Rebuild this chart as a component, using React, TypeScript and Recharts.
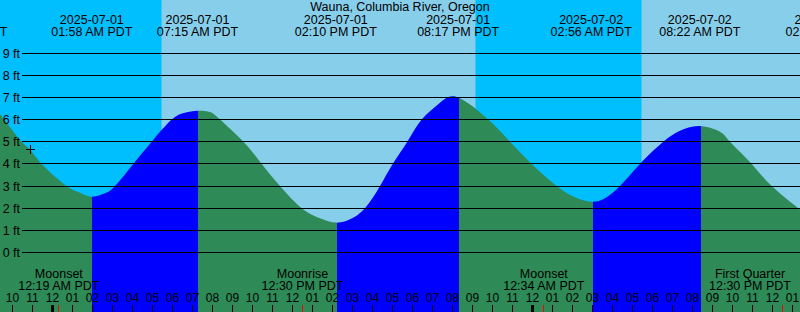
import React from 'react';
import {
  ComposedChart,
  Area,
  XAxis,
  YAxis,
  ReferenceArea,
  ReferenceLine,
  ReferenceDot,
} from 'recharts';

const W = 800;
const H = 312;
const FONT = '"Liberation Sans", Arial, Helvetica, sans-serif';

// ---- data (hours since 2025-07-01 00:00 PDT) ----
const tideHours = [
  -2.625, -1.54, -1.125, -0.54, 0.71, 1.375, 1.967, 2.625, 3.125, 4.04, 4.96, 5.96, 6.625, 7.25,
  7.875, 8.375, 9.54, 10.46, 11.375, 12.46, 13.375, 14.167, 14.875, 15.625, 16.375, 17.01,
  17.74, 18.46, 19.375, 20.283, 21.79, 22.875, 23.96, 25.21, 26.125, 26.933, 27.625, 28.375,
  29.375, 30.54, 31.375, 32.367, 33.375, 33.875, 34.96, 35.96, 37.29, 37.375,
];
const tideFeet = [
  6.25, 5.0, 4.66, 4.0, 3.0, 2.7, 2.52, 2.67, 3.0, 4.0, 5.0, 6.0, 6.31, 6.4,
  6.34, 6.0, 5.0, 4.0, 3.0, 2.0, 1.55, 1.35, 1.5, 2.0, 3.0, 4.0,
  5.0, 6.0, 6.76, 7.0, 6.0, 5.0, 4.0, 3.0, 2.49, 2.29, 2.45, 3.0,
  4.0, 5.0, 5.5, 5.71, 5.45, 5.0, 4.0, 3.0, 2.0, 1.96,
];

// turning points (low / high water), first segment is falling
const turnHours = [1.967, 7.25, 14.167, 20.283, 26.933, 32.367];

const eventHours = [-4.3, 1.967, 7.25, 14.167, 20.283, 26.933, 32.367, 38.7];
const eventDates = [
  '2025-06-30', '2025-07-01', '2025-07-01', '2025-07-01', '2025-07-01',
  '2025-07-02', '2025-07-02', '2025-07-02',
];
const eventTimes = [
  '07:42 PM PDT', '01:58 AM PDT', '07:15 AM PDT', '02:10 PM PDT', '08:17 PM PDT',
  '02:56 AM PDT', '08:22 AM PDT', '02:42 PM PDT',
];

const nightStart = [-2.625, 21.15];
const nightEnd = [5.45, 29.45];
const dayStart = [5.45, 29.45];
const dayEnd = [21.15, 37.375];

const moonHours = [0.317, 12.5, 24.567, 36.5];
const moonNames = ['Moonset', 'Moonrise', 'Moonset', 'First Quarter'];
const moonTimes = ['12:19 AM PDT', '12:30 PM PDT', '12:34 AM PDT', '12:30 PM PDT'];

const hourTicks = [
  -2, -1, 0, 1, 2, 3, 4, 5, 6, 7, 8, 9, 10, 11, 12, 13, 14, 15, 16, 17, 18, 19,
  20, 21, 22, 23, 24, 25, 26, 27, 28, 29, 30, 31, 32, 33, 34, 35, 36, 37,
];
const footTicks = [0, 1, 2, 3, 4, 5, 6, 7, 8, 9];

const markerHour = -1.125;
const markerFeet = 4.66;

const X_DOMAIN: [number, number] = [-2.625, 37.375];
const Y_DOMAIN: [number, number] = [-2.686, 11.4];

const TITLE = 'Wauna, Columbia River, Oregon';

const NIGHT = '#00BFFF';
const DAY = '#87CEEB';
const RISE = '#0000FF';
const FALL = '#2E8B57';

const rows = tideHours.map((t, i) => ({ t, ft: tideFeet[i] }));

const XTick = (props: any) => {
  const { x, payload } = props;
  const t = payload.value as number;
  const h = ((t % 24) + 24) % 24;
  const h12 = h % 12 === 0 ? 12 : h % 12;
  const label = String(h12).padStart(2, '0');
  const px = Math.round(x - 0.5) + 0.5;
  return (
    <g>
      <text x={x} y={H - 10.3} textAnchor="middle" fontSize={12} fontFamily={FONT} fill="#000">
        {label}
      </text>
      <line x1={px} x2={px} y1={H - 7} y2={H} stroke="#000" strokeWidth={h === 0 ? 3 : 1} />
    </g>
  );
};

const YTick = (props: any) => {
  const { y, payload } = props;
  const py = Math.floor(y) + 0.5;
  return (
    <g>
      <line x1={22} x2={W} y1={py} y2={py} stroke="#000" strokeWidth={1} />
      <text x={20} y={py + 4.3} textAnchor="end" fontSize={12.5} fontFamily={FONT} fill="#000">
        {`${payload.value} ft`}
      </text>
    </g>
  );
};

const makeEventShape = (date: string, time: string) => (p: any) => {
  const x = p.x1;
  return (
    <g>
      <text x={x} y={24} textAnchor="middle" fontSize={12.5} fontFamily={FONT} fill="#000">
        {date}
      </text>
      <text x={x} y={36.3} textAnchor="middle" fontSize={12.5} fontFamily={FONT} fill="#000">
        {time}
      </text>
    </g>
  );
};

const makeMoonShape = (name: string, time: string) => (p: any) => {
  const x = p.x1;
  const px = Math.round(x - 0.5) + 0.5;
  const cx = Math.max(50, Math.min(x, W - 50));
  return (
    <g>
      <text x={cx} y={278.3} textAnchor="middle" fontSize={12.5} fontFamily={FONT} fill="#000">
        {name}
      </text>
      <text x={cx} y={290.2} textAnchor="middle" fontSize={12.5} fontFamily={FONT} fill="#000">
        {time}
      </text>
      <line x1={px} x2={px} y1={H - 7} y2={H} stroke="#FF0000" strokeWidth={1} />
    </g>
  );
};

const PlusShape = (p: any) => {
  const cx = Math.round(p.cx);
  const cy = Math.round(p.cy);
  return (
    <g>
      <line x1={cx - 4} x2={cx + 5} y1={cy + 0.5} y2={cy + 0.5} stroke="#000" strokeWidth={1} />
      <line x1={cx + 0.5} x2={cx + 0.5} y1={cy - 4} y2={cy + 5} stroke="#000" strokeWidth={1} />
    </g>
  );
};

export default function App() {
  const t0 = tideHours[0];
  const t1 = tideHours[tideHours.length - 1];
  const bounds = [t0, ...turnHours, t1];
  const stops: React.ReactNode[] = [];
  for (let i = 0; i < bounds.length - 1; i++) {
    const color = i % 2 === 0 ? FALL : RISE;
    const a = (bounds[i] - t0) / (t1 - t0);
    const b = (bounds[i + 1] - t0) / (t1 - t0);
    stops.push(<stop key={`a${i}`} offset={a} stopColor={color} />);
    stops.push(<stop key={`b${i}`} offset={b} stopColor={color} />);
  }

  return (
    <div style={{ position: 'fixed', left: 0, top: 0, width: W, height: H, background: NIGHT }}>
      <ComposedChart
        width={W}
        height={H}
        data={rows}
        margin={{ top: 0, right: 0, bottom: 0, left: 0 }}
      >
        <defs>
          <linearGradient id="tideFill" x1="0" y1="0" x2="1" y2="0">
            {stops}
          </linearGradient>
        </defs>
        {nightStart.map((s, i) => (
          <ReferenceArea
            key={`n${i}`}
            x1={s}
            x2={nightEnd[i]}
            fill={NIGHT}
            fillOpacity={1}
            stroke="none"
            ifOverflow="hidden"
            zIndex={0}
          />
        ))}
        {dayStart.map((s, i) => (
          <ReferenceArea
            key={`d${i}`}
            x1={s}
            x2={dayEnd[i]}
            fill={DAY}
            fillOpacity={1}
            stroke="none"
            ifOverflow="hidden"
            zIndex={0}
          />
        ))}
        <XAxis
          type="number"
          dataKey="t"
          domain={X_DOMAIN}
          allowDataOverflow
          ticks={hourTicks}
          interval={0}
          tick={<XTick />}
          axisLine={false}
          tickLine={false}
          mirror
        />
        <YAxis
          type="number"
          domain={Y_DOMAIN}
          allowDataOverflow
          ticks={footTicks}
          interval={0}
          tick={<YTick />}
          axisLine={false}
          tickLine={false}
          mirror
        />
        <Area
          type="natural"
          dataKey="ft"
          stroke="none"
          fill="url(#tideFill)"
          fillOpacity={1}
          baseValue="dataMin"
          dot={false}
          activeDot={false}
          isAnimationActive={false}
        />
        {eventHours.map((t, i) => (
          <ReferenceLine
            key={`e${i}`}
            x={t}
            ifOverflow="visible"
            shape={makeEventShape(eventDates[i], eventTimes[i])}
            zIndex={2000}
          />
        ))}
        {moonHours.map((t, i) => (
          <ReferenceLine
            key={`m${i}`}
            x={t}
            ifOverflow="visible"
            shape={makeMoonShape(moonNames[i], moonTimes[i])}
            zIndex={2000}
          />
        ))}
        <ReferenceDot
          x={markerHour}
          y={markerFeet}
          r={4}
          shape={PlusShape}
          ifOverflow="visible"
          zIndex={2000}
        />
      </ComposedChart>
      <div
        style={{
          position: 'absolute',
          left: 0,
          top: 0,
          width: W,
          textAlign: 'center',
          fontFamily: FONT,
          fontSize: 12.5,
          lineHeight: '14px',
          color: '#000',
          pointerEvents: 'none',
        }}
      >
        {TITLE}
      </div>
    </div>
  );
}
